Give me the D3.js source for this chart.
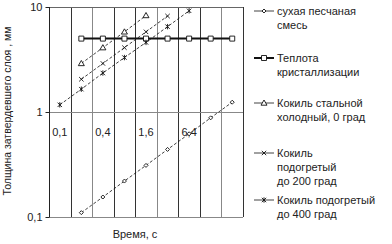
<!DOCTYPE html>
<html><head><meta charset="utf-8">
<script src="https://cdn.jsdelivr.net/npm/d3@7"></script>
<style>body{margin:0;background:#fff}svg{display:block}text{font-family:"Liberation Sans",Arial,sans-serif;fill:#222}</style>
</head><body><svg id="c" width="392" height="244"></svg>
<script>
const categories = ["0,1","0,2","0,4","0,8","1,6","3,2","6,4","12,8","25,6"];
const tickLabels = ["0,1","0,4","1,6","6,4"];
const yTicks = [10, 1, 0.1];
const yTickLabels = ["10","1","0,1"];
const sand = [null,0.11,0.155,0.22,0.31,0.44,0.62,0.88,1.24];
const heat = [null,5,5,5,5,5,5,5,5];
const cold0 = [null,2.9,4.1,5.8,8.3,null,null,null,null];
const hot200 = [null,2.05,2.9,4.1,5.8,8.2,null,null,null];
const hot400 = [1.17,1.65,2.35,3.3,4.6,6.5,9.2,null,null];
const seriesNames = [["сухая песчаная","смесь"],["Теплота","кристаллизации"],["Кокиль стальной","холодный, 0 град"],["Кокиль","подогретый","до 200 град"],["Кокиль подогретый","до 400 град"]];

const svg = d3.select("#c");
const x = d3.scaleBand().domain(categories).range([49,243]).padding(0);
const y = d3.scaleLog().domain([0.1,10]).range([217,7]);

// gridlines
const bounds = categories.map(c=>x(c)).concat([243]);
svg.append("g").selectAll("line").data(bounds).join("line")
  .attr("x1",d=>Math.round(d)+0.5).attr("x2",d=>Math.round(d)+0.5)
  .attr("y1",7).attr("y2",217)
  .attr("stroke",(d,i)=> (i%3===2)?"#888":"#333").attr("stroke-width",1);
svg.append("line").attr("x1",49).attr("x2",243).attr("y1",Math.round(y(1))+0.5).attr("y2",Math.round(y(1))+0.5).attr("stroke","#888");
svg.append("line").attr("x1",49).attr("x2",243).attr("y1",7.5).attr("y2",7.5).attr("stroke","#666");
svg.append("line").attr("x1",49).attr("x2",243).attr("y1",217.5).attr("y2",217.5).attr("stroke","#888");

// y axis
const yAxis = d3.axisLeft(y).tickValues(yTicks).tickFormat((d,i)=>yTickLabels[i]).tickSize(4).tickPadding(3);
const ga = svg.append("g").attr("transform","translate(49.5,0)").call(yAxis);
ga.select(".domain").attr("stroke","#222").attr("d","M0,7V217");
ga.selectAll(".tick line").attr("stroke","#222");
ga.selectAll("text").style("font-size","11px").attr("fill","#222");

// x tick labels (at y=1 crossing)
svg.append("g").selectAll("text").data(tickLabels).join("text")
  .attr("x",d=>x(d)+x.bandwidth()/2).attr("y",y(1)+24)
  .attr("text-anchor","middle").style("font-size","11px").text(d=>d);

// titles
svg.append("text").attr("x",135).attr("y",238).attr("text-anchor","middle").style("font-size","11px").text("Время, с");
svg.append("text").attr("transform","translate(11,111) rotate(-90)").attr("text-anchor","middle").style("font-size","10.5px").attr("fill","#333").text("Толщина затвердевшего слоя , мм");

const cx = i=>x(categories[i])+x.bandwidth()/2;
function markerPath(type){
  switch(type){
    case "diamond": return "M0,-2L2,0L0,2L-2,0Z";
    case "square": return "M-2.5,-2.5H2.5V2.5H-2.5Z";
    case "triangle": return "M0,-3L3,2.2H-3Z";
    case "x": return "M-2.2,-2.2L2.2,2.2M-2.2,2.2L2.2,-2.2";
    case "star": return "M-2.2,-2.2L2.2,2.2M-2.2,2.2L2.2,-2.2M0,-2.7V2.7";
  }
}
const series = [
  {data:sand, marker:"diamond", width:0.8, dash:"3,2"},
  {data:heat, marker:"square", width:2, dash:null},
  {data:cold0, marker:"triangle", width:0.8, dash:"3,2"},
  {data:hot200, marker:"x", width:0.8, dash:"3,2"},
  {data:hot400, marker:"star", width:0.8, dash:"3,2"}
];
series.forEach(s=>{
  const pts = s.data.map((v,i)=>({v,i})).filter(p=>p.v!=null);
  svg.append("path").attr("d",d3.line().x(p=>cx(p.i)).y(p=>y(p.v))(pts))
    .attr("fill","none").attr("stroke","#111").attr("stroke-width",s.width)
    .attr("stroke-dasharray",s.dash);
  svg.append("g").selectAll("path").data(pts).join("path")
    .attr("transform",p=>`translate(${cx(p.i)},${y(p.v)})`)
    .attr("d",markerPath(s.marker)).attr("fill","#fff").attr("stroke","#111").attr("stroke-width",0.9);
});

// legend
const legY = [11,58,103,153,200];
const lg = svg.append("g");
series.forEach((s,k)=>{
  const yy = legY[k];
  lg.append("line").attr("x1",254).attr("x2",274).attr("y1",yy).attr("y2",yy)
    .attr("stroke","#111").attr("stroke-width",s.width);
  lg.append("path").attr("transform",`translate(264,${yy})`).attr("d",markerPath(s.marker))
    .attr("fill","#fff").attr("stroke","#111").attr("stroke-width",0.9);
  seriesNames[k].forEach((t,j)=>{
    lg.append("text").attr("x",277).attr("y",yy+4+j*14.2).style("font-size","11px").text(t);
  });
});
</script></body></html>
